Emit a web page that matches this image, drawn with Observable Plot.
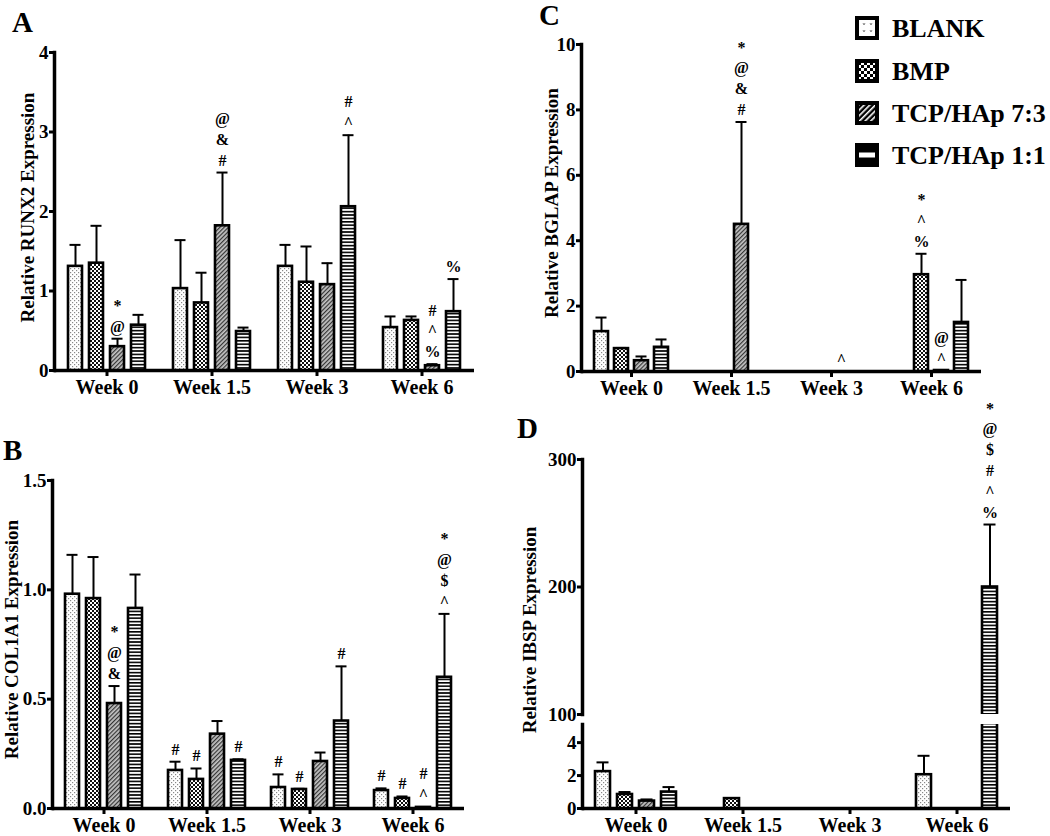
<!DOCTYPE html>
<html><head><meta charset="utf-8">
<script src="https://cdn.jsdelivr.net/npm/d3@7"></script>
<script src="https://cdn.jsdelivr.net/npm/@observablehq/plot@0.6"></script>
<style>
body{margin:0;background:#fff;}
#wrap{position:relative;width:1050px;height:836px;overflow:hidden;font-family:"Liberation Serif","Times New Roman",serif;}
.panel{position:absolute;}
.panel svg{overflow:visible;}
</style></head><body><div id="wrap"></div>
<script>
// ---------- data ----------
const weeks = ["Week 0", "Week 1.5", "Week 3", "Week 6"];
const groups = ["BLANK", "BMP", "TCP/HAp 7:3", "TCP/HAp 1:1"];

// rows: groups (BLANK, BMP, TCP/HAp 7:3, TCP/HAp 1:1); columns: weeks
const runx2Mean = [[1.31, 1.03, 1.31, 0.54], [1.35, 0.85, 1.11, 0.63], [0.30, 1.82, 1.08, 0.06], [0.57, 0.49, 2.06, 0.74]];
const runx2Sd   = [[0.27, 0.61, 0.27, 0.14], [0.47, 0.38, 0.45, 0.05], [0.10, 0.67, 0.27, 0.02], [0.13, 0.05, 0.90, 0.41]];
const runx2Notes = [["Week 0", "TCP/HAp 7:3", "*\n@"], ["Week 1.5", "TCP/HAp 7:3", "@\n&\n#"], ["Week 3", "TCP/HAp 1:1", "#\n^"], ["Week 6", "TCP/HAp 7:3", "#\n^\n%"], ["Week 6", "TCP/HAp 1:1", "%"]];

const col1a1Mean = [[0.98, 0.174, 0.096, 0.082], [0.96, 0.133, 0.087, 0.046], [0.48, 0.34, 0.215, 0.005], [0.915, 0.22, 0.40, 0.60]];
const col1a1Sd   = [[0.18, 0.04, 0.06, 0.01], [0.19, 0.05, 0.003, 0.009], [0.08, 0.06, 0.041, 0.002], [0.155, 0.005, 0.25, 0.29]];
const col1a1Notes = [["Week 0", "TCP/HAp 7:3", "*\n@\n&"], ["Week 1.5", "BLANK", "#"], ["Week 1.5", "BMP", "#"], ["Week 1.5", "TCP/HAp 1:1", "#"], ["Week 3", "BLANK", "#"], ["Week 3", "BMP", "#"], ["Week 3", "TCP/HAp 1:1", "#"], ["Week 6", "BLANK", "#"], ["Week 6", "BMP", "#"], ["Week 6", "TCP/HAp 7:3", "#\n^"], ["Week 6", "TCP/HAp 1:1", "*\n@\n$\n^"]];

const bglapMean = [[1.22, 0, 0, 0], [0.70, 0, 0, 2.96], [0.33, 4.5, 0, 0.03], [0.74, 0, 0, 1.5]];
const bglapSd   = [[0.43, 0, 0, 0], [0.02, 0, 0, 0.64], [0.13, 3.13, 0, 0], [0.24, 0, 0, 1.3]];
const bglapNotes = [["Week 1.5", "TCP/HAp 7:3", "*\n@\n&\n#"], ["Week 3", "TCP/HAp 7:3", "^"], ["Week 6", "BMP", "*\n^\n%"], ["Week 6", "TCP/HAp 7:3", "@\n^"]];

const ibspMean = [[2.24, 0, 0, 2.05], [0.85, 0.6, 0, 0], [0.45, 0, 0, 0], [1.0, 0, 0, 200]];
const ibspSd   = [[0.56, 0, 0, 1.15], [0.15, 0, 0, 0], [0.1, 0, 0, 0], [0.3, 0, 0, 49]];
const ibspNotes = [["Week 6", "TCP/HAp 1:1", "*\n@\n$\n#\n^\n%"]];

// ---------- patterns ----------
const fills = {"BLANK": "url(#pat-blank)", "BMP": "url(#pat-bmp)", "TCP/HAp 7:3": "url(#pat-73)", "TCP/HAp 1:1": "url(#pat-11)"};
const wrap = d3.select("#wrap");
wrap.append("svg").attr("width", 0).attr("height", 0).style("position", "absolute").html(`
<defs>
<pattern id="pat-blank" patternUnits="userSpaceOnUse" width="4" height="4">
  <rect width="4" height="4" fill="#fff"/>
  <rect x="0" y="0" width="1.2" height="1.2" fill="#888"/>
  <rect x="2" y="2" width="1.2" height="1.2" fill="#888"/>
</pattern>
<pattern id="pat-bmp" patternUnits="userSpaceOnUse" width="4" height="4">
  <rect width="4" height="4" fill="#fff"/>
  <rect x="0" y="0" width="2" height="2" fill="#111"/>
  <rect x="2" y="2" width="2" height="2" fill="#111"/>
</pattern>
<pattern id="pat-73" patternUnits="userSpaceOnUse" width="3" height="3" patternTransform="rotate(45)">
  <rect width="3" height="3" fill="#c4c4c4"/>
  <rect width="1.2" height="3" fill="#333"/>
</pattern>
<pattern id="pat-11" patternUnits="userSpaceOnUse" width="4" height="3.4">
  <rect width="4" height="3.4" fill="#fff"/>
  <rect width="4" height="1.6" fill="#000"/>
</pattern>
<pattern id="leg-blank" patternUnits="userSpaceOnUse" width="7" height="7">
  <rect width="7" height="7" fill="#fff"/>
  <path d="M1,2 L2,4 L3,2" fill="none" stroke="#666" stroke-width="0.8"/>
</pattern>
<pattern id="leg-bmp" patternUnits="userSpaceOnUse" width="6" height="6">
  <rect width="6" height="6" fill="#fff"/>
  <rect width="3" height="3" fill="#000"/>
  <rect x="3" y="3" width="3" height="3" fill="#000"/>
</pattern>
<pattern id="leg-73" patternUnits="userSpaceOnUse" width="4" height="4" patternTransform="rotate(45)">
  <rect width="4" height="4" fill="#000"/>
  <rect width="1.6" height="4" fill="#fff"/>
</pattern>
</defs>`);

// ---------- helpers ----------
function rowsOf(means, sds) {
  return groups.flatMap((g, gi) => weeks.map((w, wi) => ({
    week: w, group: g, mean: means[gi][wi], sd: sds[gi][wi], top: means[gi][wi] + sds[gi][wi]
  })));
}
function notesOf(notes, rows) {
  return notes.map(([week, group, text]) => {
    const r = rows.find(d => d.week === week && d.group === group);
    return {week, group, text, top: r.top};
  });
}

function panel(o) {
  const rows = rowsOf(o.means, o.sds);
  const notes = o.notes ? notesOf(o.notes, rows) : [];
  const marks = [
    // baseline per facet (also keeps every facet non-empty)
    Plot.ruleY(weeks, {fx: d => d, y: () => o.domain[0], stroke: o.xAxis ? "#000" : "none", strokeWidth: 3.5}),
    Plot.barY(rows.filter(d => d.mean > 0), {fx: "week", x: "group", y1: 0, y2: "mean", fill: d => fills[d.group], stroke: "#000", strokeWidth: 2.6, clip: o.clip}),
    Plot.ruleX(rows.filter(d => d.sd > 0), {fx: "week", x: "group", y1: "mean", y2: "top", stroke: "#000", strokeWidth: 2, clip: o.clip}),
    Plot.tickY(rows.filter(d => d.sd > 0), {fx: "week", x: "group", y: "top", stroke: "#000", strokeWidth: 2, insetLeft: 1.5, insetRight: 1.5, clip: o.clip}),
    Plot.frame({anchor: "left", stroke: "#000", strokeWidth: 3.5, facetAnchor: "left"}),
    Plot.axisY({ticks: o.ticks, tickFormat: o.tickFormat, tickSize: 5, tickPadding: 1, stroke: "#000", strokeWidth: 3, fontSize: 19, fontWeight: "bold", label: null, facetAnchor: "left"}),
    Plot.text(notes, {fx: "week", x: "group", y: "top", text: "text", lineAnchor: "bottom", dy: -7, fontSize: 16, fontWeight: "bold", lineHeight: 1.3, fill: "#000"})
  ];
  if (o.xAxis) {
    marks.push(Plot.axisFx({anchor: "bottom", tickSize: 6, tickPadding: 3, stroke: "#000", strokeWidth: 3, fontSize: 20, fontWeight: "bold", label: null}));
  }
  if (o.title) {
    marks.push(Plot.text([o.title], {frameAnchor: "left", textAnchor: "middle", rotate: -90, dx: o.titleDx, dy: o.titleDy || 0, fontSize: 19, fontWeight: "bold", fill: "#000", facetAnchor: "left"}));
  }
  const chart = Plot.plot({
    width: o.width, height: o.height,
    marginLeft: o.marginLeft, marginRight: o.marginRight, marginTop: o.marginTop, marginBottom: o.marginBottom,
    style: {fontFamily: "'Liberation Serif', 'Times New Roman', serif", fontWeight: "bold", fontSize: "18px", background: "transparent", color: "#000", overflow: "visible"},
    fx: {domain: weeks, padding: 0, label: null, axis: null},
    x: {domain: groups, paddingInner: 0.32, paddingOuter: 0.56, axis: null},
    y: {domain: o.domain, axis: null},
    color: {type: "identity"},
    marks
  });
  wrap.append("div").attr("class", "panel").style("left", o.left + "px").style("top", o.top + "px").node().appendChild(chart);
}

// ---------- panels ----------
panel({left: 0, top: 0, width: 500, height: 400, marginLeft: 52, marginRight: 25, marginTop: 52, marginBottom: 30,
  domain: [0, 4], ticks: [0, 1, 2, 3, 4], tickFormat: d3.format("d"), means: runx2Mean, sds: runx2Sd, notes: runx2Notes,
  xAxis: true, title: "Relative RUNX2 Expression", titleDx: -27, titleDy: -4});

panel({left: 0, top: 410, width: 500, height: 426, marginLeft: 52, marginRight: 36, marginTop: 70, marginBottom: 28,
  domain: [0, 1.5], ticks: [0, 0.5, 1, 1.5], tickFormat: d3.format(".1f"), means: col1a1Mean, sds: col1a1Sd, notes: col1a1Notes,
  xAxis: true, title: "Relative COL1A1 Expression", titleDx: -41, titleDy: -5});

panel({left: 520, top: 0, width: 530, height: 400, marginLeft: 60, marginRight: 68, marginTop: 44, marginBottom: 29,
  domain: [0, 10], ticks: [0, 2, 4, 6, 8, 10], tickFormat: d3.format("d"), means: bglapMean, sds: bglapSd, notes: bglapNotes,
  xAxis: true, title: "Relative BGLAP Expression", titleDx: -30, titleDy: -5});

// IBSP: broken axis, upper segment
panel({left: 520, top: 390, width: 530, height: 330, marginLeft: 61, marginRight: 39, marginTop: 69, marginBottom: 6,
  domain: [100, 300], ticks: [100, 200, 300], tickFormat: d3.format("d"), means: ibspMean, sds: ibspSd, notes: ibspNotes,
  clip: true, xAxis: false, title: "Relative IBSP Expression", titleDx: -53, titleDy: 43});
// IBSP: lower segment
panel({left: 520, top: 716, width: 530, height: 120, marginLeft: 61, marginRight: 39, marginTop: 8, marginBottom: 28,
  domain: [0, 5.1], ticks: [0, 2, 4], tickFormat: d3.format("d"), means: ibspMean, sds: ibspSd, notes: null,
  clip: true, xAxis: true});

// ---------- panel letters + legend ----------
const over = wrap.append("svg").attr("width", 1050).attr("height", 836)
  .style("position", "absolute").style("left", 0).style("top", 0).style("pointer-events", "none")
  .style("font-family", "'Liberation Serif', 'Times New Roman', serif").style("font-weight", "bold");
const letters = [["A", 12, 32], ["B", 3, 460], ["C", 539, 25], ["D", 517, 438]];
over.selectAll("text.letter").data(letters).join("text").attr("class", "letter")
  .attr("x", d => d[1]).attr("y", d => d[2]).attr("font-size", 29).text(d => d[0]);

const legendFills = {"BLANK": "url(#leg-blank)", "BMP": "url(#leg-bmp)", "TCP/HAp 7:3": "url(#leg-73)", "TCP/HAp 1:1": "#000"};
const leg = over.append("g").attr("transform", "translate(855,0)");
const legY = [28, 71, 113, 155];
groups.forEach((g, i) => {
  const row = leg.append("g").attr("transform", `translate(0,${legY[i]})`);
  row.append("rect").attr("x", 2).attr("y", -10).attr("width", 20).attr("height", 20)
    .attr("fill", legendFills[g]).attr("stroke", "#000").attr("stroke-width", 4);
  if (g === "TCP/HAp 1:1") {
    row.append("rect").attr("x", 4).attr("y", -2.5).attr("width", 16).attr("height", 5).attr("fill", "#fff");
  }
  row.append("text").attr("x", 37).attr("y", 0).attr("dy", "0.35em").attr("font-size", 26).text(g);
});
</script>
</body></html>
